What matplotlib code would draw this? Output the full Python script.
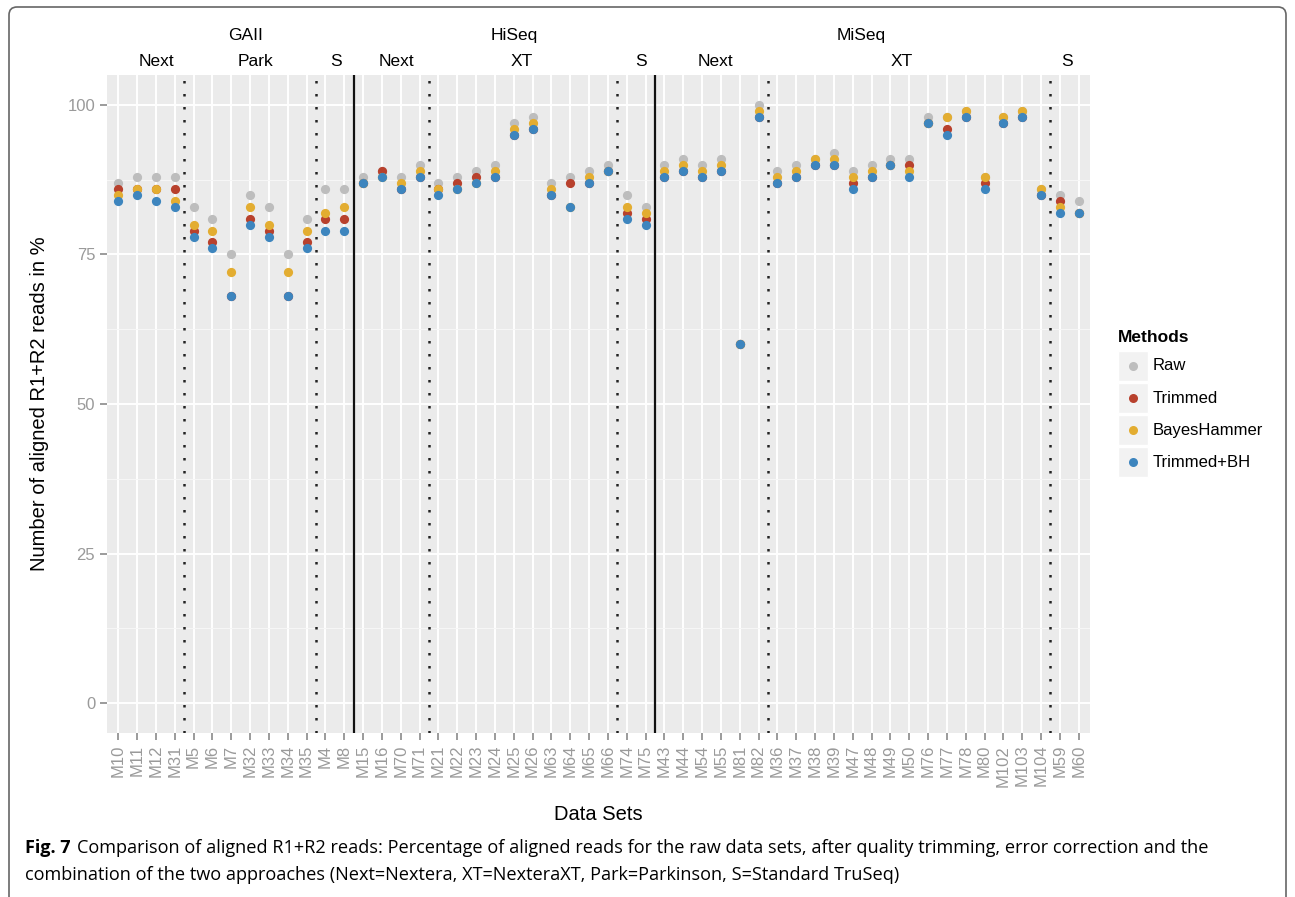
import matplotlib
matplotlib.use("Agg")
import matplotlib.pyplot as plt
from matplotlib.patches import Rectangle
from matplotlib.path import Path
from matplotlib.patches import PathPatch
from matplotlib.lines import Line2D
import numpy as np

## data sets, in plotting order
datasets = ["M10", "M11", "M12", "M31", "M5", "M6", "M7", "M32", "M33", "M34", "M35", "M4", "M8",
            "M15", "M16", "M70", "M71", "M21", "M22", "M23", "M24", "M25", "M26", "M63", "M64",
            "M65", "M66", "M74", "M75",
            "M43", "M44", "M54", "M55", "M81", "M82", "M36", "M37", "M38", "M39", "M47", "M48",
            "M49", "M50", "M76", "M77", "M78", "M80", "M102", "M103", "M104", "M59", "M60"]

raw = [87, 88, 88, 88, 83, 81, 75, 85, 83, 75, 81, 86, 86,
       88, 89, 88, 90, 87, 88, 89, 90, 97, 98, 87, 88, 89, 90, 85, 83,
       90, 91, 90, 91, 60, 100, 89, 90, 91, 92, 89, 90, 91, 91, 98, 98, 99, 88, 98, 99, 86, 85, 84]
trimmed = [86, 86, 86, 86, 79, 77, 68, 81, 79, 68, 77, 81, 81,
           87, 89, 86, 88, 86, 87, 88, 88, 95, 96, 85, 87, 87, 89, 82, 81,
           88, 89, 88, 89, 60, 98, 87, 88, 90, 90, 87, 88, 90, 90, 97, 96, 98, 87, 97, 98, 85, 84, 82]
bayeshammer = [85, 86, 86, 84, 80, 79, 72, 83, 80, 72, 79, 82, 83,
               87, 88, 87, 89, 86, 86, 87, 89, 96, 97, 86, 83, 88, 89, 83, 82,
               89, 90, 89, 90, 60, 99, 88, 89, 91, 91, 88, 89, 90, 89, 97, 98, 99, 88, 98, 99, 86, 83, 82]
trimmed_bh = [84, 85, 84, 83, 78, 76, 68, 80, 78, 68, 76, 79, 79,
              87, 88, 86, 88, 85, 86, 87, 88, 95, 96, 85, 83, 87, 89, 81, 80,
              88, 89, 88, 89, 60, 98, 87, 88, 90, 90, 86, 88, 90, 88, 97, 95, 98, 86, 97, 98, 85, 82, 82]

methods = ["Raw", "Trimmed", "BayesHammer", "Trimmed+BH"]
colors = ["#bdbdbd", "#b8412d", "#e3ad31", "#3d85be"]

# instrument / library labels over the panel
platforms = [("GAII", 6.75), ("HiSeq", 21.05), ("MiSeq", 39.45)]
libraries = [("Next", 2.0), ("Park", 7.3), ("S", 11.55), ("Next", 14.75), ("XT", 21.4),
             ("S", 27.75), ("Next", 31.7), ("XT", 41.6), ("S", 50.4)]
dotted_at = [3.5, 10.5, 16.5, 26.5, 34.5, 49.5]
solid_at = [12.5, 28.5]

W, H = 1295, 897
plt.rcParams['font.family'] = ['Liberation Sans', 'DejaVu Sans']

fig = plt.figure(figsize=(W / 100, H / 100), dpi=100)
ax = fig.add_axes([107 / W, 1 - 733 / H, (1090 - 107) / W, (733 - 75) / H])
ax.set_facecolor("#ebebeb")

x = np.arange(len(datasets))
for vals, col, name in zip([raw, trimmed, bayeshammer, trimmed_bh], colors, methods):
    ax.scatter(x, vals, s=44, color=col, zorder=3, linewidths=0, label=name)

ax.set_xlim(-0.6, len(datasets) - 1 + 0.6)
ax.set_ylim(-5, 105)
ax.set_yticks([0, 25, 50, 75, 100])
ax.set_yticks([12.5, 37.5, 62.5, 87.5], minor=True)
ax.set_xticks(x)
ax.set_xticklabels(datasets, rotation=90)
ax.grid(which="major", color="white", linewidth=1.4, zorder=0)
ax.grid(which="minor", axis="y", color="#f7f7f7", linewidth=0.7, zorder=0)
ax.set_axisbelow(True)
for s in ax.spines.values():
    s.set_visible(False)
ax.tick_params(which="major", colors="#8a8a8a", labelcolor="#9a9a9a", labelsize=12,
               length=5, width=1.2)
ax.tick_params(which="minor", length=0)

for xv in dotted_at:
    ax.axvline(xv, color="#222222", linewidth=1.8, linestyle=(0, (1, 4.2)), zorder=2)
for xv in solid_at:
    ax.axvline(xv, color="#111111", linewidth=1.6, zorder=2)

ax.set_ylabel("Number of aligned R1+R2 reads in %", fontsize=14.5, labelpad=13)
ax.set_xlabel("Data Sets", fontsize=14.5, labelpad=13)

# group labels above the panel
for lab, xv in platforms:
    ax.text(xv, 1 + 40 / 658, lab, transform=ax.get_xaxis_transform(), ha="center", va="center",
            fontsize=12.5)
for lab, xv in libraries:
    ax.text(xv, 1 + 14 / 658, lab, transform=ax.get_xaxis_transform(), ha="center", va="center",
            fontsize=12.5)

# legend, drawn by hand to get the grey key boxes
def fx(px):
    return px / W

def fy(py):
    return 1 - py / H

fig.text(fx(1118), fy(337), "Methods", fontsize=12.5, fontweight="bold", va="center")
for i, (name, col) in enumerate(zip(methods, colors)):
    cy = 366 + 32 * i
    fig.patches.append(Rectangle((fx(1118), fy(cy + 15)), 30 / W, 30 / H, transform=fig.transFigure,
                                 facecolor="#f2f2f2", edgecolor="white", linewidth=1))
    fig.lines.append(Line2D([fx(1133)], [fy(cy)], marker="o", markersize=6.5, color=col,
                            markeredgewidth=0, transform=fig.transFigure))
    fig.text(fx(1153), fy(cy), name, fontsize=12, va="center")

# frame with rounded top corners, open at the bottom
r = 8
verts = [(fx(9), fy(897)), (fx(9), fy(7 + r)), (fx(9), fy(7)), (fx(9 + r), fy(7)),
         (fx(1286 - r), fy(7)), (fx(1286), fy(7)), (fx(1286), fy(7 + r)), (fx(1286), fy(897))]
codes = [Path.MOVETO, Path.LINETO, Path.CURVE3, Path.CURVE3, Path.LINETO, Path.CURVE3, Path.CURVE3,
         Path.LINETO]
fig.patches.append(PathPatch(Path(verts, codes), transform=fig.transFigure, facecolor="none",
                             edgecolor="#666666", linewidth=1.2))

# caption
cap_font = ['Open Sans', 'DejaVu Sans']
fig.text(fx(25), fy(848), "Fig. 7", fontsize=13, fontweight="bold", va="center", family=cap_font)
fig.text(fx(77), fy(848), "Comparison of aligned R1+R2 reads: Percentage of aligned reads for the raw data sets, "
         "after quality trimming, error correction and the", fontsize=13.1, va="center", family=cap_font)
fig.text(fx(25), fy(875), "combination of the two approaches (Next=Nextera, XT=NexteraXT, Park=Parkinson, "
         "S=Standard TruSeq)", fontsize=13.1, va="center", family=cap_font)

fig.savefig("out.png", dpi=100)
